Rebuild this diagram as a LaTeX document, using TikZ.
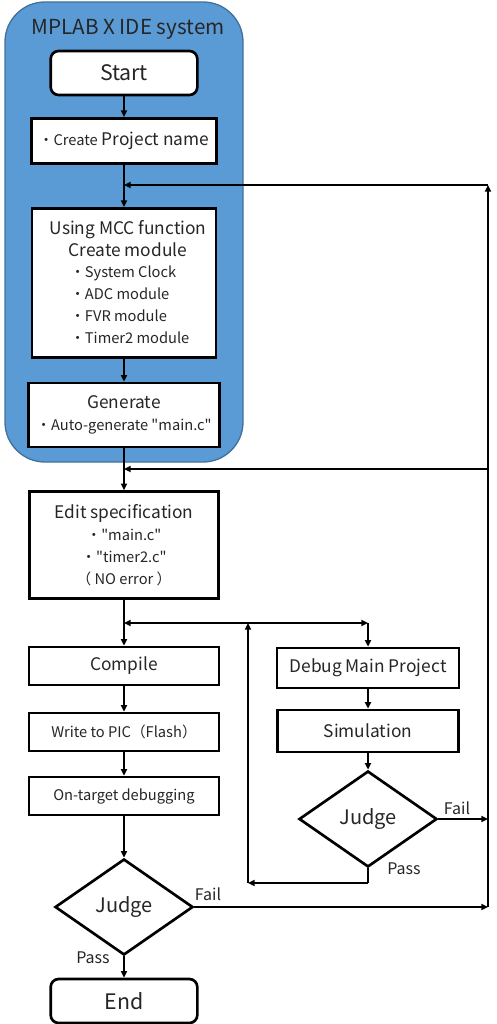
\documentclass[tikz,border=0pt]{standalone}
\usepackage{fontspec}
\setmainfont{Noto Sans CJK JP}[Ligatures=TeXOff]
\usetikzlibrary{arrows.meta,shapes.geometric}

\definecolor{sysblue}{HTML}{5B9BD5}
\definecolor{sysedge}{HTML}{41719C}
\definecolor{inkgray}{HTML}{262626}

\begin{document}
\begin{tikzpicture}[x=0.75pt, y=-0.75pt, >={Triangle[length=5pt,width=4.5pt]},
    box/.style={draw, line width=2pt, fill=white, inner sep=0pt, align=center, text=inkgray, font=\fontsize{13}{16.5}\selectfont},
    termbox/.style={box, rounded corners=6pt, minimum width=110pt, minimum height=33pt, font=\fontsize{16}{18}\selectfont},
    smallbox/.style={box, minimum width=142.5pt, minimum height=28.5pt, font=\fontsize{11}{13}\selectfont},
    judgebox/.style={draw, diamond, line width=2pt, fill=white, inner sep=0pt, text=inkgray, minimum width=103.5pt, minimum height=72pt, font=\fontsize{15}{17}\selectfont},
    listtext/.style={align=left, inner sep=0pt, text=inkgray, font=\fontsize{11}{16.5}\selectfont},
    flow/.style={->, line width=1.8pt},
    wire/.style={line width=1.8pt},
    tag/.style={inner sep=0pt, text=inkgray, font=\fontsize{12}{14}\selectfont}]
    \useasboundingbox (0,0) rectangle (496,1024);

    % MPLAB X IDE system
    \draw [fill=sysblue, draw=sysedge, line width=1pt, rounded corners=30pt] (5,2) rectangle (243,462);
    \node [inner sep=0pt, text=inkgray, font=\fontsize{15.5}{18}\selectfont] (title) at (128,29) {MPLAB X IDE system};

    \node [termbox] (start) at (124,73) {Start};
    \node [box, minimum width=139pt, minimum height=34pt] (proj) at (124,141) {{\fontsize{11}{13}\selectfont ・Create} Project name};
    \node [box, minimum width=138pt, minimum height=112pt] (mcc) at (124,283) {};
    \node [inner sep=0pt, align=center, text=inkgray, font=\fontsize{13}{16.5}\selectfont] (mcchead) at (128,239) {Using MCC function\\Create module};
    \node [listtext, anchor=west] (mcclist) at (70,305) {・System Clock\\・ADC module\\・FVR module\\・Timer2 module};
    \node [box, minimum width=143pt, minimum height=48pt] (gen) at (124,415) {Generate\\{\fontsize{11}{16.5}\selectfont ・Auto-generate "main.c"}};

    % Edit and build
    \node [box, minimum width=142pt, minimum height=80pt] (edit) at (124,545) {Edit specification\\{\fontsize{11}{16.5}\selectfont ・"main.c"}\\{\fontsize{11}{16.5}\selectfont ・"timer2.c"}\\{\fontsize{11}{16.5}\selectfont （ NO error ）}};
    \node [smallbox, font=\fontsize{13}{15}\selectfont] (comp) at (124,666) {Compile};
    \node [smallbox] (write) at (124,732) {Write to PIC（Flash）};
    \node [smallbox] (ontgt) at (124,796) {On-target debugging};
    \node [judgebox] (judgeA) at (124,907) {Judge};
    \node [termbox] (endn) at (124,1001) {End};

    % Simulator branch
    \node [box, minimum width=136.5pt, minimum height=30pt] (dbg) at (368,668) {Debug Main Project};
    \node [box, minimum width=136pt, minimum height=31.5pt] (sim) at (368,731) {Simulation};
    \node [judgebox] (judgeB) at (368,819) {Judge};

    % Corners of the return paths
    \coordinate (mergeA) at (124,185);
    \coordinate (mergeB) at (124,469);
    \coordinate (mergeC) at (124,623);
    \coordinate (rtopA) at (488,185);
    \coordinate (rmidB) at (488,469);
    \coordinate (rbot) at (488,907);
    \coordinate (rside) at (488,819);
    \coordinate (loopup) at (248,623);
    \coordinate (loopbot) at (248,883);
    \coordinate (passB) at (368,883);
    \coordinate (brk) at (368,623);

    % Main flow
    \draw [flow] (start) -- (proj);
    \draw [flow] (proj) -- (mcc);
    \draw [flow] (mcc) -- (gen);
    \draw [flow] (gen) -- (edit);
    \draw [flow] (edit) -- (comp);
    \draw [flow] (comp) -- (write);
    \draw [flow] (write) -- (ontgt);
    \draw [flow] (ontgt) -- (judgeA);
    \draw [flow] (judgeA) -- (endn);
    \draw [flow] (dbg) -- (sim);
    \draw [flow] (sim) -- (judgeB);

    % Return paths
    \draw [flow] (loopup) -- (mergeC);
    \draw [flow] (loopup) -- (brk);
    \draw [flow] (brk) -- (dbg);
    \draw [wire] (judgeB.south) -- (passB);
    \draw [flow] (passB) -- (loopbot);
    \draw [flow] (loopbot) -- (loopup);
    \draw [flow] (judgeB.east) -- (rside);
    \draw [flow] (judgeA.east) -- (rbot);
    \draw [flow] (rbot) -- (rtopA);
    \draw [flow] (rtopA) -- (mergeA);
    \draw [flow] (rmidB) -- (mergeB);

    % Branch labels
    \node [tag] (failB) at (457,808) {Fail};
    \node [tag] (passBt) at (404,869) {Pass};
    \node [tag] (failA) at (208,894) {Fail};
    \node [tag] (passA) at (93,958) {Pass};
\end{tikzpicture}
\end{document}
